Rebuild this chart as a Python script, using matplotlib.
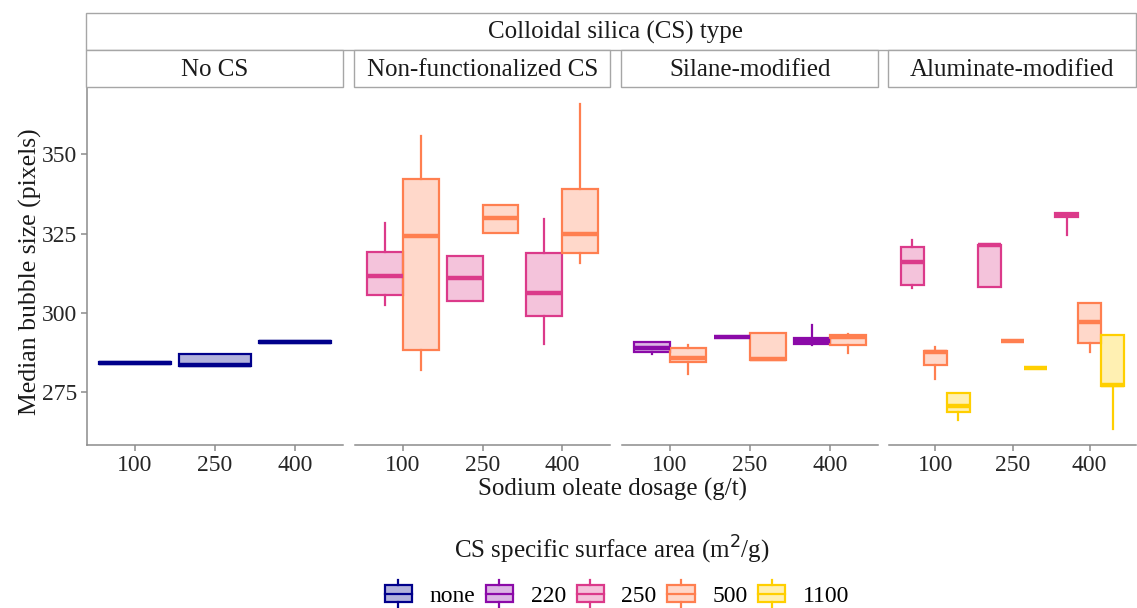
import matplotlib
matplotlib.use("Agg")
import matplotlib.pyplot as plt
from matplotlib.patches import Rectangle, Patch
from matplotlib.lines import Line2D
from matplotlib.legend_handler import HandlerBase

plt.rcParams['font.family'] = ['Liberation Serif', 'DejaVu Serif']

# facets, x categories and fill groups
panels = ["No CS", "Non-functionalized CS", "Silane-modified", "Aluminate-modified"]
dosages = ["100", "250", "400"]
areas = ["none", "220", "250", "500", "1100"]
area_colors = {"none": "#00008B", "220": "#8B0AA8", "250": "#DB3A8A",
               "500": "#FF7F50", "1100": "#FFCF00"}

# five-number summaries per dosage: (whislo, q1, median, q3, whishi)
nocs_none = [(284.0, 284.0, 284.3, 284.5, 284.5),
             (283.3, 283.3, 283.6, 287.0, 287.0),
             (290.6, 290.6, 290.8, 291.0, 291.0)]
nonfunc_250 = [(302.5, 305.8, 311.6, 319.2, 328.4),
               (303.9, 303.9, 311.0, 318.1, 318.1),
               (290.1, 299.1, 306.3, 318.8, 329.6)]
nonfunc_500 = [(282.0, 288.3, 324.4, 342.3, 355.8),
               (325.2, 325.2, 330.0, 334.2, 334.2),
               (315.9, 318.8, 325.0, 339.0, 365.9)]
silane_220 = [(287.0, 287.5, 289.0, 290.8, 290.8),
              (292.3, 292.3, 292.3, 292.3, 292.3),
              (289.9, 290.3, 291.2, 292.2, 296.1)]
silane_500 = [(280.6, 284.6, 285.7, 288.8, 289.9),
              (285.1, 285.1, 285.4, 293.6, 293.6),
              (287.2, 289.9, 292.5, 293.0, 293.4)]
alum_250 = [(307.8, 308.8, 316.2, 320.8, 323.1),
            (308.2, 308.2, 321.3, 321.5, 321.5),
            (324.6, 330.3, 330.9, 331.5, 331.5)]
alum_500 = [(279.0, 283.5, 287.6, 288.0, 289.1),
            (291.1, 291.1, 291.1, 291.1, 291.1),
            (287.8, 290.4, 297.2, 303.1, 303.1)]
alum_1100 = [(266.1, 268.7, 270.6, 274.8, 274.8),
             (282.7, 282.7, 282.7, 282.7, 282.7),
             (263.5, 277.0, 277.2, 293.0, 293.0)]

panel_data = [
    {"none": nocs_none},
    {"250": nonfunc_250, "500": nonfunc_500},
    {"220": silane_220, "500": silane_500},
    {"250": alum_250, "500": alum_500, "1100": alum_1100},
]

W, H = 1137, 608
fig = plt.figure(figsize=(W / 100, H / 100), dpi=100)
grey = "#8C8C8C"
txt = "#1A1A1A"

def fx(px):
    return px / W

def fy(py):
    return 1 - py / H

panel_x = [(87, 343), (355, 610), (622, 878), (889, 1136)]
top, bottom = 87, 445

# outer strip
fig.patches.append(Rectangle((fx(86), fy(50)), fx(1136 - 86), (50 - 13) / H,
                             transform=fig.transFigure, facecolor="white",
                             edgecolor="#A6A6A6", lw=1.0))
fig.text(fx(616), fy(32), "Colloidal silica (CS) type", ha="center", va="center",
         fontsize=18, color=txt)

for p, (x0, x1) in enumerate(panel_x):
    ax = fig.add_axes([fx(x0), fy(bottom), fx(x1 - x0), (bottom - top) / H])
    groups = list(panel_data[p].keys())
    n = len(groups)
    w = 0.9 / n
    for k, g in enumerate(groups):
        stats = []
        for i, s in enumerate(panel_data[p][g]):
            stats.append(dict(whislo=s[0], q1=s[1], med=s[2], q3=s[3], whishi=s[4], fliers=[]))
        pos = [i + 1 - 0.45 + w * (k + 0.5) for i in range(len(dosages))]
        c = area_colors[g]
        ax.bxp(stats, positions=pos, widths=w, patch_artist=True, showcaps=False,
               showfliers=False, manage_ticks=False,
               boxprops=dict(facecolor=matplotlib.colors.to_rgba(c, 0.3), edgecolor=c, lw=1.6),
               medianprops=dict(color=c, lw=3.2, solid_capstyle="butt"),
               whiskerprops=dict(color=c, lw=1.6))
    ax.set_xlim(0.4, 3.6)
    ax.set_ylim(258.3, 371.3)
    ax.set_xticks([1, 2, 3])
    ax.set_xticklabels(dosages)
    for s in ["top", "right"]:
        ax.spines[s].set_visible(False)
    ax.spines["bottom"].set_color(grey)
    ax.spines["bottom"].set_linewidth(1.1)
    ax.tick_params(axis="both", colors=grey, labelcolor="#262626", labelsize=17,
                   length=4, width=1.1, pad=3)
    if p == 0:
        ax.spines["left"].set_color(grey)
        ax.spines["left"].set_linewidth(1.1)
        ax.set_yticks([275, 300, 325, 350])
    else:
        ax.spines["left"].set_visible(False)
        ax.set_yticks([])
    # panel strip
    fig.patches.append(Rectangle((fx(x0 - 1), fy(87)), fx(x1 - x0 + 1), 37 / H,
                                 transform=fig.transFigure, facecolor="white",
                                 edgecolor="#A6A6A6", lw=1.0))
    fig.text(fx((x0 + x1) / 2), fy(70), panels[p], ha="center", va="center",
             fontsize=18, color=txt)

fig.text(fx(612), fy(489), "Sodium oleate dosage (g/t)", ha="center", va="center",
         fontsize=18, color=txt)
fig.text(fx(30), fy(272), "Median bubble size (pixels)", ha="center", va="center",
         rotation=90, fontsize=18.5, color=txt)
fig.text(fx(612), fy(550), "CS specific surface area (m$^{2}$/g)", ha="center",
         va="center", fontsize=18, color=txt)


class BoxKey(HandlerBase):
    def create_artists(self, legend, orig_handle, xdescent, ydescent, width, height,
                       fontsize, trans):
        c = orig_handle.get_edgecolor()
        fc = orig_handle.get_facecolor()
        x0, y0 = -xdescent, -ydescent
        box = Rectangle((x0, y0), width, height, facecolor=fc,
                        edgecolor=c, lw=1.6, transform=trans)
        xm = x0 + width / 2
        med = Line2D([x0, x0 + width], [y0 + height / 2] * 2, color=c, lw=1.6, transform=trans)
        wt = Line2D([xm, xm], [y0 + height, y0 + height * 1.3], color=c, lw=1.6, transform=trans)
        wb = Line2D([xm, xm], [y0, y0 - height * 0.3], color=c, lw=1.6, transform=trans)
        return [box, med, wt, wb]


handles = [Patch(facecolor=matplotlib.colors.to_rgba(area_colors[a], 0.3),
                 edgecolor=area_colors[a]) for a in areas]
fig.legend(handles, areas, handler_map={Patch: BoxKey()}, loc="center",
           bbox_to_anchor=(fx(617), fy(596)), ncol=5, frameon=False, fontsize=17,
           handlelength=1.15, handleheight=0.75, handletextpad=0.75, columnspacing=0.45)

fig.savefig("out.png", dpi=100)
